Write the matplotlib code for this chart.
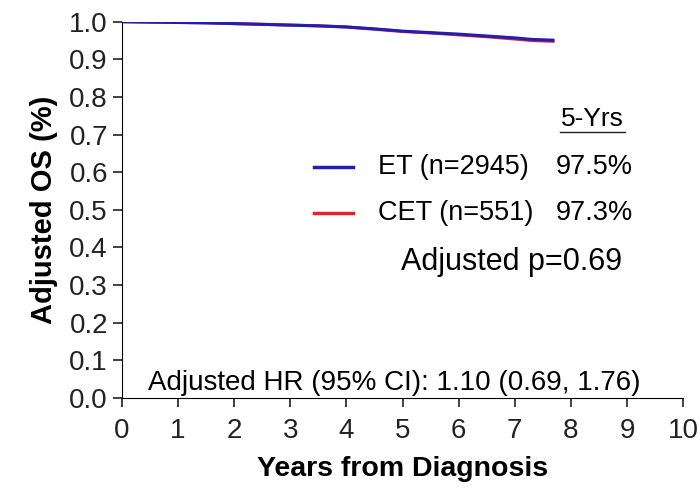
import numpy as np
import matplotlib
matplotlib.use('Agg')
import matplotlib.pyplot as plt

plt.rcParams['font.family'] = ['Liberation Sans', 'DejaVu Sans']

# adjusted survival curves
years = [0, 0.5, 1, 1.5, 2, 2.5, 3, 3.5, 4, 4.5, 5, 5.5, 6, 6.5, 7, 7.3, 7.68]
et_os = [1.0, 0.999, 0.998, 0.997, 0.995, 0.993, 0.991, 0.989, 0.986, 0.981,
         0.975, 0.971, 0.967, 0.962, 0.957, 0.953, 0.951]
cet_os = [1.0, 0.999, 0.998, 0.997, 0.995, 0.993, 0.991, 0.989, 0.986, 0.980,
          0.974, 0.970, 0.965, 0.960, 0.954, 0.950, 0.948]

groups = ['ET (n=2945)', 'CET (n=551)']
five_yr = ['97.5%', '97.3%']
colors = ['#1f1fb4', '#e8202a']

fig = plt.figure(figsize=(7, 4.88), dpi=100)
ax = fig.add_axes([0.174, 0.185, 0.802, 0.7705])

ax.plot(years, cet_os, color=colors[1], lw=2.2)
ax.plot(years, et_os, color=colors[0], lw=2.2)

ax.set_xlim(0, 10)
ax.set_ylim(0, 1.0)
ax.set_xticks(np.arange(0, 11, 1))
ax.set_yticks(np.arange(0, 1.01, 0.1))
ax.set_yticklabels(['%.1f' % v for v in np.arange(0, 1.01, 0.1)])
ax.spines['top'].set_visible(False)
ax.spines['right'].set_visible(False)
ax.tick_params(labelsize=20, length=6.5, width=1.2, colors='#222222')
ax.tick_params(axis='x', pad=8)
ax.set_xlabel('Years from Diagnosis', fontsize=20.5, fontweight='bold', labelpad=9)
ax.set_ylabel('Adjusted OS (%)', fontsize=21, fontweight='bold', labelpad=8)

# legend drawn by hand like the original
ax.text(8.38, 0.742, '5-Yrs', fontsize=19, ha='center', va='center')
ax.plot([7.81, 8.97], [0.706, 0.706], color='#222222', lw=1, clip_on=False)
for i, (g, p) in enumerate(zip(groups, five_yr)):
    yy = 0.614 - i * 0.122
    ax.plot([3.43, 4.12], [yy, yy], color=colors[i], lw=2.5)
    ax.text(4.56, yy, g, fontsize=19.5, ha='left', va='center')
    ax.text(9.11, yy, p, fontsize=19.5, ha='right', va='center')
ax.text(6.95, 0.362, 'Adjusted p=0.69', fontsize=22, ha='center', va='center')
ax.text(4.85, 0.04, 'Adjusted HR (95% CI): 1.10 (0.69, 1.76)', fontsize=20,
        ha='center', va='center')

plt.savefig('out.png', dpi=100)
plt.close()
